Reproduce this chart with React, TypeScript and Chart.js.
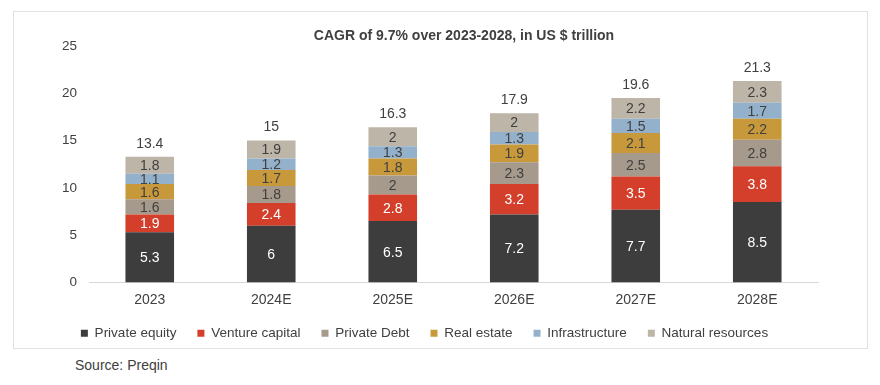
import React, { useEffect, useRef } from "react";
import { Chart, registerables } from "chart.js";

Chart.register(...registerables);

const categories = ["2023", "2024E", "2025E", "2026E", "2027E", "2028E"];
const privateEquity = [5.3, 6, 6.5, 7.2, 7.7, 8.5];
const ventureCapital = [1.9, 2.4, 2.8, 3.2, 3.5, 3.8];
const privateDebt = [1.6, 1.8, 2, 2.3, 2.5, 2.8];
const realEstate = [1.6, 1.7, 1.8, 1.9, 2.1, 2.2];
const infrastructure = [1.1, 1.2, 1.3, 1.3, 1.5, 1.7];
const naturalResources = [1.8, 1.9, 2, 2, 2.2, 2.3];
const totals = [13.4, 15, 16.3, 17.9, 19.6, 21.3];

const seriesNames = [
  "Private equity",
  "Venture capital",
  "Private Debt",
  "Real estate",
  "Infrastructure",
  "Natural resources",
];
const seriesValues = [privateEquity, ventureCapital, privateDebt, realEstate, infrastructure, naturalResources];
const seriesColors = ["#3d3d3d", "#d33f2a", "#a59a8b", "#c8993b", "#93b1cb", "#bdb5a8"];
const labelColors = ["#ffffff", "#ffffff", "#404040", "#404040", "#404040", "#404040"];

const FONT = '"Liberation Sans", Arial, sans-serif';

const labelPlugin = {
  id: "segLabels",
  afterDatasetsDraw(chart: any) {
    const ctx = chart.ctx;
    ctx.save();
    ctx.font = `14px ${FONT}`;
    ctx.textAlign = "center";
    ctx.textBaseline = "middle";
    chart.data.datasets.forEach((ds: any, i: number) => {
      const meta = chart.getDatasetMeta(i);
      meta.data.forEach((bar: any, j: number) => {
        const { x, y, base } = bar.getProps(["x", "y", "base"], true);
        ctx.fillStyle = labelColors[i];
        ctx.fillText(String(ds.data[j]), x, (y + base) / 2 + 1);
      });
    });
    const last = chart.getDatasetMeta(chart.data.datasets.length - 1);
    last.data.forEach((bar: any, j: number) => {
      ctx.fillStyle = "#404040";
      ctx.fillText(String(totals[j]), bar.x, bar.y - 13);
    });
    ctx.restore();
  },
};

export default function App() {
  const ref = useRef<HTMLCanvasElement | null>(null);

  useEffect(() => {
    if (!ref.current) return;
    Chart.defaults.font.family = FONT;
    Chart.defaults.font.size = 13;
    Chart.defaults.color = "#404040";
    const chart = new Chart(ref.current, {
      type: "bar",
      data: {
        labels: categories,
        datasets: seriesNames.map((name, i) => ({
          label: name,
          data: seriesValues[i],
          backgroundColor: seriesColors[i],
          borderWidth: 0,
          barPercentage: 0.4,
          categoryPercentage: 1,
        })),
      },
      options: {
        responsive: false,
        animation: false,
        devicePixelRatio: 1,
        layout: { padding: { left: 31, right: 62, top: 46, bottom: 0 } },
        plugins: {
          title: { display: false },
          tooltip: { enabled: false },
          legend: {
            position: "bottom",
            labels: {
              boxWidth: 7,
              boxHeight: 7,
              padding: 21,
              color: "#404040",
              font: { size: 13.5, family: FONT },
            },
          },
        },
        scales: {
          x: {
            stacked: true,
            grid: { display: false, drawTicks: false },
            border: { display: true, color: "#d9d9d9", width: 1 },
            ticks: { padding: 9, color: "#404040", font: { size: 14 } },
            afterFit: (s: any) => {
              s.height = 23;
            },
          },
          y: {
            stacked: true,
            min: 0,
            max: 25,
            grid: { display: false, drawTicks: false },
            border: { display: false },
            ticks: { stepSize: 5, padding: 12, color: "#404040", font: { size: 13.5 } },
            afterFit: (s: any) => {
              s.width = 58;
            },
          },
        },
      },
      plugins: [labelPlugin],
    });
    return () => chart.destroy();
  }, []);

  return (
    <div style={{ position: "fixed", left: 0, top: 0, width: 880, height: 385, background: "#fff" }}>
      <div
        style={{
          position: "absolute",
          left: 13,
          top: 11,
          width: 853,
          height: 336,
          border: "1px solid #e2e2e2",
        }}
      />
      <canvas ref={ref} width={880} height={350} style={{ position: "absolute", left: 0, top: 0 }} />
      <div
        style={{
          position: "absolute",
          left: 264,
          width: 400,
          top: 27,
          lineHeight: "16px",
          textAlign: "center",
          font: `bold 14px ${FONT}`,
          color: "#404040",
        }}
      >
        CAGR of 9.7% over 2023-2028, in US $ trillion
      </div>
      <div
        style={{
          position: "absolute",
          left: 75,
          top: 357,
          lineHeight: "16px",
          font: `14px ${FONT}`,
          color: "#404040",
        }}
      >
        Source: Preqin
      </div>
    </div>
  );
}
